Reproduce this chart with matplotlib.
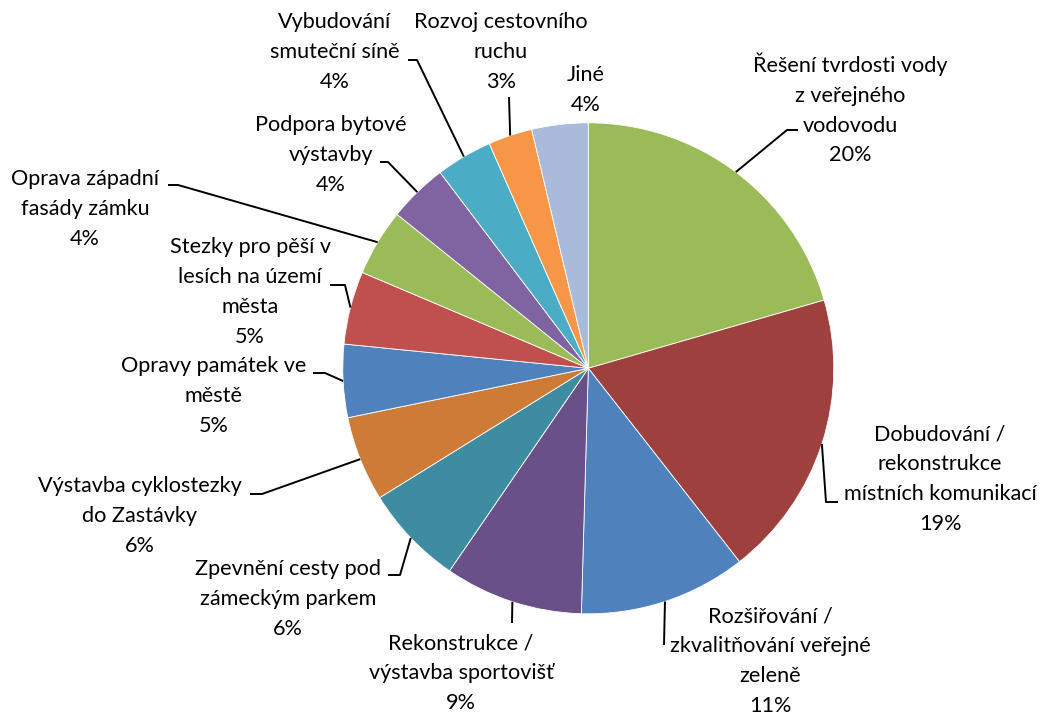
import matplotlib
matplotlib.use("Agg")
import matplotlib.pyplot as plt
import numpy as np

# ---- data ----
categories = [
    "Řešení tvrdosti vody\nz veřejného\nvodovodu",
    "Dobudování /\nrekonstrukce\nmístních komunikací",
    "Rozšiřování /\nzkvalitňování veřejné\nzeleně",
    "Rekonstrukce /\nvýstavba sportovišť",
    "Zpevnění cesty pod\nzámeckým parkem",
    "Výstavba cyklostezky\ndo Zastávky",
    "Opravy památek ve\nměstě",
    "Stezky pro pěší v\nlesích na území\nměsta",
    "Oprava západní\nfasády zámku",
    "Podpora bytové\nvýstavby",
    "Vybudování\nsmuteční síně",
    "Rozvoj cestovního\nruchu",
    "Jiné",
]
values = [20.5, 18.9, 11.0, 9.1, 6.6, 5.6, 4.8, 4.8, 4.4, 3.9, 3.7, 2.9, 3.7]
pct_labels = ["20%", "19%", "11%", "9%", "6%", "6%", "5%", "5%", "4%", "4%", "4%", "3%", "4%"]

# ---- style ----
colors = ["#9BBB59", "#9E413E", "#4F81BD", "#6A5088", "#3D8CA2", "#CD7B37",
          "#4F81BD", "#C0504D", "#9BBB59", "#8064A2", "#4BACC6", "#F79646", "#A9BADA"]

W, H = 1048, 713
CX, CY, R = 588.3, 368.3, 245.5

# label block centres (pixel coords) and leader elbow / end points (pixel coords)
label_pos = [(850, 109), (940, 479), (770, 661), (461, 673), (288, 599), (140, 516),
             (214, 396), (250, 292), (85, 209), (331, 155), (335, 52), (501, 52), (586, 90)]
leader_pts = [
    [(787, 130), (798, 130)],
    [(826, 502), (838, 502)],
    [(664, 645)],
    [(512, 623)],
    [(400, 575), (388, 575)],
    [(262, 494), (250, 494)],
    [(325, 373), (313, 373)],
    [(345, 285), (330, 285)],
    [(178, 185), (168, 185)],
    [(388, 162), (380, 162)],
    [(417, 60), (408, 60)],
    [(509, 97)],
    None,
]

plt.rcParams['font.family'] = ['Lato', 'DejaVu Sans']

fig = plt.figure(figsize=(W / 100, H / 100), dpi=100)
ax = fig.add_axes([0, 0, 1, 1])

wedges, _ = ax.pie(values, colors=colors, startangle=90, counterclock=False,
                   center=(CX, H - CY), radius=R,
                   wedgeprops=dict(linewidth=0.6, edgecolor="#ffffff"))
ax.set_xlim(0, W)
ax.set_ylim(0, H)
ax.set_aspect('equal')
ax.axis('off')

for i, w in enumerate(wedges):
    txt = categories[i] + "\n" + pct_labels[i]
    lx, ly = label_pos[i]
    ax.text(lx, H - ly, txt, ha='center', va='center', fontsize=15.6,
            linespacing=1.61, color='black')
    if leader_pts[i] is not None:
        mid = np.deg2rad((w.theta1 + w.theta2) / 2)
        sx = w.center[0] + w.r * np.cos(mid)
        sy = w.center[1] + w.r * np.sin(mid)
        xs = [sx] + [p[0] for p in leader_pts[i]]
        ys = [sy] + [H - p[1] for p in leader_pts[i]]
        ax.plot(xs, ys, color='black', lw=1.4, solid_capstyle='butt')

fig.savefig("out.png", dpi=100)
